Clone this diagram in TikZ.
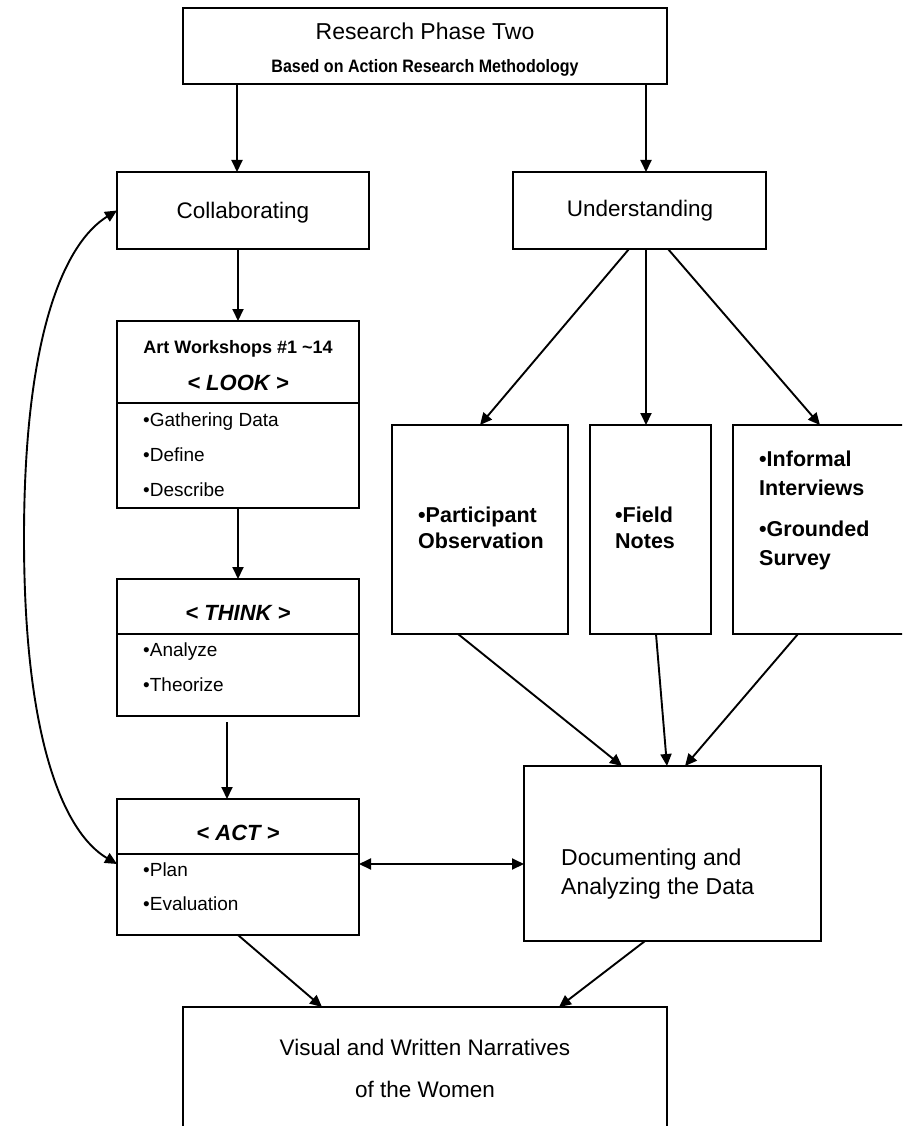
\documentclass[tikz,border=0pt]{standalone}
\usepackage{fontspec}
\setmainfont{Liberation Sans}
\usetikzlibrary{arrows.meta}

\tikzset{
  box/.style={draw, line width=1.9pt, inner sep=0pt, outer sep=0pt, anchor=north west},
  tip/.style={-{Triangle[length=12pt,width=11pt]}},
  arr/.style={line width=1.9pt, tip},
  dbl/.style={line width=1.9pt, {Triangle[length=12pt,width=11pt]}-{Triangle[length=12pt,width=11pt]}},
  rule/.style={line width=1.9pt},
  lbl/.style={inner sep=0pt, anchor=base},
  lbll/.style={inner sep=0pt, anchor=base west},
  ftitle/.style={font=\fontsize{23}{27}\selectfont},
  fsub/.style={font=\fontsize{18}{21}\selectfont\bfseries\addfontfeature{FakeStretch=0.89}},
  fhead/.style={font=\fontsize{22.5}{27}\selectfont},
  fart/.style={font=\fontsize{18}{21}\selectfont\bfseries},
  fstage/.style={font=\fontsize{22}{26}\selectfont\bfseries\itshape},
  fitem/.style={font=\fontsize{19}{23}\selectfont},
  fmethod/.style={font=\fontsize{21.5}{26}\selectfont\bfseries},
  fdoc/.style={font=\fontsize{23}{27}\selectfont},
}

\begin{document}
\begin{tikzpicture}[x=1pt, y=-1pt]
\useasboundingbox (0,0) rectangle (902,1126);
\clip (0,0) rectangle (902,1126);

% boxes
\node[box, minimum width=484pt, minimum height=76pt] (top) at (183,8) {};
\node[box, minimum width=252pt, minimum height=77pt] (collab) at (117,172) {};
\node[box, minimum width=253pt, minimum height=77pt] (und) at (513,172) {};
\node[box, minimum width=242pt, minimum height=187pt] (art) at (117,321) {};
\node[box, minimum width=242pt, minimum height=137pt] (think) at (117,579) {};
\node[box, minimum width=242pt, minimum height=136pt] (act) at (117,799) {};
\node[box, minimum width=176pt, minimum height=209pt] (po) at (392,425) {};
\node[box, minimum width=121pt, minimum height=209pt] (fn) at (590,425) {};
\node[box, minimum width=200pt, minimum height=209pt] (ifs) at (733,425) {};
\node[box, minimum width=297pt, minimum height=175pt] (doc) at (524,766) {};
\node[box, minimum width=484pt, minimum height=150pt] (bot) at (183,1007) {};

% dividers inside the workshop boxes
\draw[rule] (art.west |- 0,403) -- (art.east |- 0,403);
\draw[rule] (think.west |- 0,634) -- (think.east |- 0,634);
\draw[rule] (act.west |- 0,854) -- (act.east |- 0,854);

% texts
\node[lbl, ftitle] (t1) at (425,40) {Research Phase Two};
\node[lbl, fsub] (t2) at (425,73) {Based on Action Research Methodology};
\node[lbl, fhead] (tc) at (243,218) {Collaborating};
\node[lbl, fhead] (tu) at (640,216) {Understanding};

\node[lbl, fart] (ta) at (238,353) {Art Workshops \#1 \textasciitilde14};
\node[lbl, fstage] (tl) at (238,390) {< LOOK >};
\node[lbll, fitem] (ta1) at (143,426) {•Gathering Data};
\node[lbll, fitem] (ta2) at (143,461) {•Define};
\node[lbll, fitem] (ta3) at (143,496) {•Describe};

\node[lbl, fstage] (tt) at (238,620) {< THINK >};
\node[lbll, fitem] (tt1) at (143,656) {•Analyze};
\node[lbll, fitem] (tt2) at (143,691) {•Theorize};

\node[lbl, fstage] (tx) at (238,840) {< ACT >};
\node[lbll, fitem] (tx1) at (143,876) {•Plan};
\node[lbll, fitem] (tx2) at (143,910) {•Evaluation};

\node[lbll, fmethod] (tp1) at (418,522) {•Participant};
\node[lbll, fmethod] (tp2) at (418,548) {Observation};
\node[lbll, fmethod] (tf1) at (615,522) {•Field};
\node[lbll, fmethod] (tf2) at (615,548) {Notes};
\node[lbll, fmethod] (ti1) at (759,466) {•Informal};
\node[lbll, fmethod] (ti2) at (759,495) {Interviews};
\node[lbll, fmethod] (ti3) at (759,536) {•Grounded};
\node[lbll, fmethod] (ti4) at (759,565) {Survey};

\node[lbll, fdoc] (td1) at (561,865) {Documenting and};
\node[lbll, fdoc] (td2) at (561,894) {Analyzing the Data};

\node[lbl, fhead] (tb1) at (425,1055) {Visual and Written Narratives};
\node[lbl, fhead] (tb2) at (425,1097) {of the Women};

% connectors
\draw[arr] ([xshift=-6pt]collab.north |- top.south) -- ([xshift=-6pt]collab.north);
\draw[arr] ([xshift=6.5pt]und.north |- top.south) -- ([xshift=6.5pt]und.north);
\draw[arr] (collab.south -| art.north) -- (art.north);
\draw[arr] (art.south) -- (think.north);
\draw[arr] ([xshift=-11pt,yshift=-6pt]think.south) -- ([xshift=-11pt]act.north);

\draw[arr] ([xshift=-10.5pt]und.south) -- (po.north);
\draw[arr] ([xshift=6.5pt]und.south) -- ([xshift=6.5pt]und.south |- fn.north);
\draw[arr] ([xshift=28.5pt]und.south) -- ([xshift=87pt]ifs.north west);

\draw[arr] ([xshift=-22pt]po.south) -- ([xshift=98pt]doc.north west);
\draw[arr] ([xshift=5.5pt]fn.south) -- ([xshift=143pt]doc.north west);
\draw[arr] ([xshift=65pt]ifs.south west) -- ([xshift=161pt]doc.north west);

\draw[dbl] ([yshift=3pt]act.east) -- ([yshift=3pt]act.east -| doc.west);

\draw[arr] (act.south) -- ([xshift=139pt]bot.north west);
\draw[arr] ([xshift=121pt]doc.south west) -- ([xshift=376pt]bot.north west);

% feedback loop between collaborating and acting
\coordinate (loopmid) at (24,538);
\draw[dbl] (collab.west) .. controls (66,242) and (24,330) .. (loopmid)
  .. controls (24,746) and (66,834) .. ([yshift=3pt]act.west);
\end{tikzpicture}
\end{document}
